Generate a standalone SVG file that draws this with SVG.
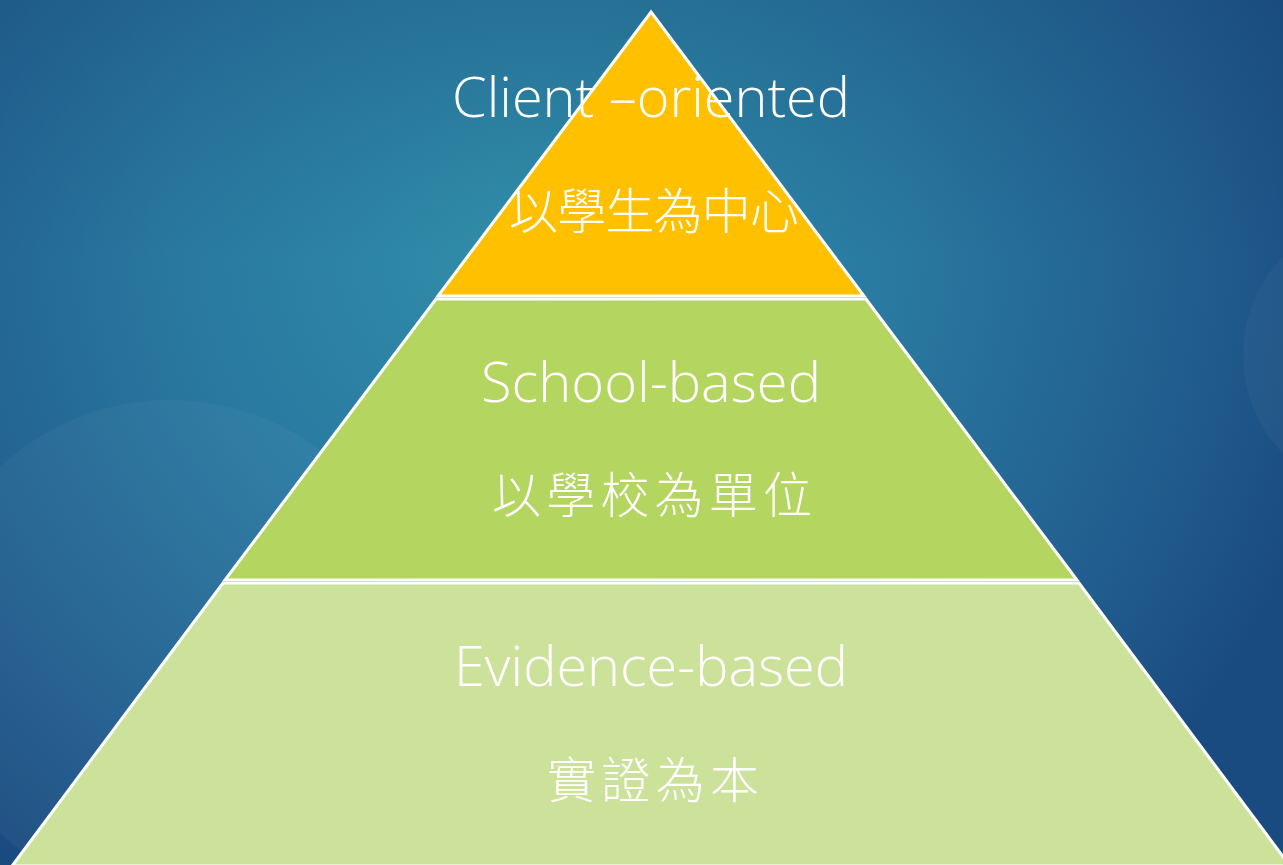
<svg xmlns="http://www.w3.org/2000/svg" width="1283" height="865" viewBox="0 0 1283 865">
  <defs>
    <radialGradient id="bg" cx="540" cy="230" r="820" gradientUnits="userSpaceOnUse">
      <stop offset="0" stop-color="#3190AA"/>
      <stop offset="0.45" stop-color="#2978A0"/>
      <stop offset="0.8" stop-color="#215D8E"/>
      <stop offset="1" stop-color="#1A4B80"/>
    </radialGradient>
    <linearGradient id="topdark" x1="0" y1="0" x2="0" y2="1">
      <stop offset="0" stop-color="#15406F" stop-opacity="0.25"/>
      <stop offset="0.3" stop-color="#15406F" stop-opacity="0"/>
    </linearGradient>
    <style>
      .tier { stroke: #FFFFFF; stroke-width: 3; stroke-linejoin: miter; }
      .en { font-family: "Open Sans", "Noto Sans", "Liberation Sans", sans-serif; font-weight: 350; font-size: 55px; fill: #FFFFFF; text-anchor: middle; }
      .zh { font-family: "Noto Sans CJK TC", "Noto Sans CJK SC", sans-serif; font-weight: 300; font-size: 49px; fill: #FFFFFF; text-anchor: middle; }
    </style>
  </defs>
  <rect x="0" y="0" width="1283" height="865" fill="url(#bg)"/>
  <rect x="0" y="0" width="1283" height="865" fill="url(#topdark)"/>
  <circle cx="170" cy="650" r="250" fill="#FFFFFF" fill-opacity="0.035"/>
  <circle cx="1385" cy="355" r="142" fill="#FFFFFF" fill-opacity="0.035"/>

  <g id="tier-top">
    <polygon class="tier" fill="#FFC000" points="651,12 864,296 438,296"/>
    <text class="en" x="651" y="117" textLength="398" lengthAdjust="spacingAndGlyphs">Client –oriented</text>
    <text class="zh" x="654" y="229" textLength="290" lengthAdjust="spacing">以學生為中心</text>
  </g>
  <g id="tier-middle">
    <polygon class="tier" fill="#B4D560" points="436,299 866,299 1077,580 225,580"/>
    <text class="en" x="651" y="402" textLength="340" lengthAdjust="spacingAndGlyphs">School-based</text>
    <text class="zh" x="652" y="513" textLength="320" lengthAdjust="spacing">以學校為單位</text>
  </g>
  <g id="tier-bottom">
    <polygon class="tier" fill="#CCE29B" points="223,583 1079,583 1290,866 12,866"/>
    <text class="en" x="651" y="686" textLength="394" lengthAdjust="spacingAndGlyphs">Evidence-based</text>
    <text class="zh" x="653" y="798" textLength="212" lengthAdjust="spacing">實證為本</text>
  </g>
  <g id="connectors"/>
</svg>
